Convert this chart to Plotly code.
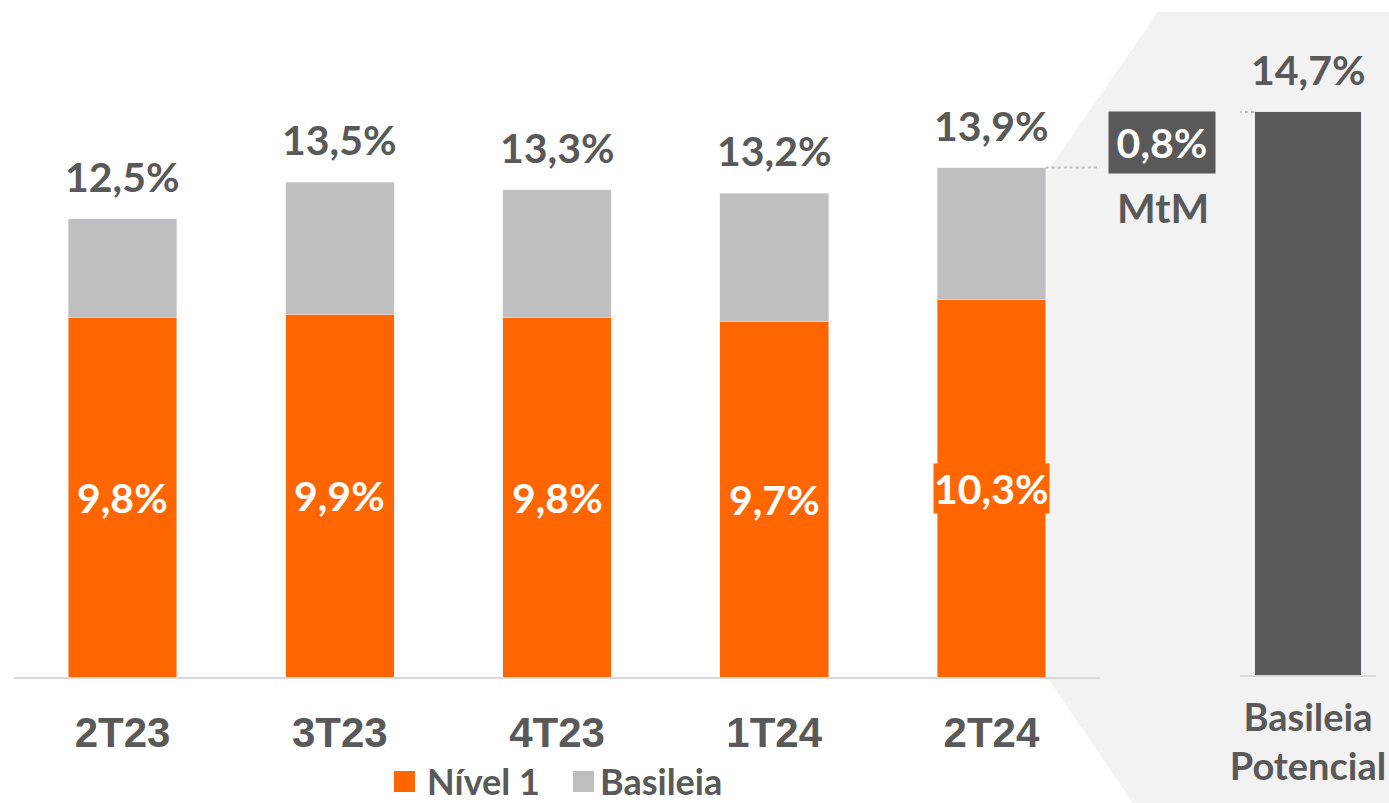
import plotly.graph_objects as go

# ---- data ----
categories = ["2T23", "3T23", "4T23", "1T24", "2T24"]
nivel1 = [9.8, 9.9, 9.8, 9.7, 10.3]
total_basileia = [12.5, 13.5, 13.3, 13.2, 13.9]
potencial_label = "Basileia<br>Potencial"
potencial_value = 14.7
mtm_value = 0.8
series_names = ["Nível 1", "Basileia"]

basileia_part = [round(t - n, 2) for t, n in zip(total_basileia, nivel1)]

W, H = 1389, 803
ORANGE = "#FF6600"
LGRAY = "#BFBFBF"
DARK = "#595959"
BG = "#F2F2F2"


def fmt(v):
    return f"{v:.1f}".replace(".", ",") + "%"


def px(x):
    return x / W


def py(y):
    return 1 - y / H


fig = go.Figure()
fig.add_trace(go.Bar(x=categories, y=nivel1, name=series_names[0], marker_color=ORANGE,
                     xaxis="x", yaxis="y", showlegend=False, hoverinfo="skip"))
fig.add_trace(go.Bar(x=categories, y=basileia_part, name=series_names[1], marker_color=LGRAY,
                     xaxis="x", yaxis="y", showlegend=False, hoverinfo="skip"))
fig.add_trace(go.Bar(x=[potencial_label], y=[potencial_value], marker_color=DARK,
                     xaxis="x2", yaxis="y2", showlegend=False, hoverinfo="skip", width=0.78))

lato = dict(family="Lato", weight="bold")

annotations = []
for c, t, n in zip(categories, total_basileia, nivel1):
    annotations.append(dict(x=c, y=t, xref="x", yref="y", text=fmt(t), showarrow=False,
                            yanchor="bottom", yshift=16,
                            font=dict(size=41, color=DARK, **lato)))
    annotations.append(dict(x=c, y=n / 2, xref="x", yref="y", text=fmt(n), showarrow=False,
                            yanchor="middle", bgcolor=ORANGE, borderpad=0,
                            font=dict(size=41, color="white", **lato)))

annotations.append(dict(x=potencial_label, y=potencial_value, xref="x2", yref="y2",
                        text=fmt(potencial_value), showarrow=False, yanchor="bottom", yshift=16,
                        font=dict(size=41, color=DARK, **lato)))
# MtM box
annotations.append(dict(x=px(1162), y=py(142), xref="paper", yref="paper", text=fmt(mtm_value),
                        showarrow=False, bgcolor=DARK, width=106, height=61, borderpad=0,
                        xanchor="center", yanchor="middle",
                        font=dict(size=41, color="white", **lato)))
annotations.append(dict(x=px(1163), y=py(208), xref="paper", yref="paper", text="MtM",
                        showarrow=False, xanchor="center", yanchor="middle",
                        font=dict(size=41, color=DARK, **lato)))
# custom legend
annotations.append(dict(x=px(425), y=py(781), xref="paper", yref="paper", text=series_names[0],
                        showarrow=False, xanchor="left", yanchor="middle",
                        font=dict(size=36, color=DARK, **lato)))
annotations.append(dict(x=px(598), y=py(781), xref="paper", yref="paper", text=series_names[1],
                        showarrow=False, xanchor="left", yanchor="middle",
                        font=dict(size=36, color=DARK, **lato)))

shapes = [
    dict(type="path", xref="paper", yref="paper", layer="below", line=dict(width=0), fillcolor=BG,
         path=f"M{px(1158)},{py(12)} L{px(1389)},{py(12)} L{px(1389)},{py(803)} "
              f"L{px(1133)},{py(803)} L{px(1047)},{py(677)} L{px(1047)},{py(172)} Z"),
    dict(type="line", xref="x", yref="y", x0=4.25, x1=4.54, y0=total_basileia[-1], y1=total_basileia[-1],
         line=dict(color="#BFBFBF", width=2, dash="dot")),
    dict(type="line", xref="x2", yref="y2", x0=-0.684, x1=-0.39, y0=potencial_value, y1=potencial_value,
         line=dict(color="#BFBFBF", width=2, dash="dot")),
    dict(type="rect", xref="paper", yref="paper", x0=px(394), x1=px(415), y0=py(792), y1=py(771),
         fillcolor=ORANGE, line=dict(width=0)),
    dict(type="rect", xref="paper", yref="paper", x0=px(573), x1=px(594), y0=py(792), y1=py(771),
         fillcolor=LGRAY, line=dict(width=0)),
]

fig.update_layout(
    width=W, height=H, barmode="stack", bargap=0.5,
    margin=dict(l=0, r=0, t=0, b=0, autoexpand=False),
    paper_bgcolor="white", plot_bgcolor="rgba(0,0,0,0)",
    showlegend=False,
    xaxis=dict(domain=[px(14), px(1100)], range=[-0.5, 4.5], showline=True, linecolor="#D9D9D9",
               linewidth=2, ticks="", showgrid=False, zeroline=False, ticklabelstandoff=18,
               automargin=False,
               tickfont=dict(family="Liberation Sans", weight="bold", size=42, color=DARK)),
    yaxis=dict(domain=[py(677), 1], range=[0, 677 / 36.65], visible=False, automargin=False),
    xaxis2=dict(domain=[px(1240), px(1376)], range=[-0.5, 0.5], anchor="y2", showline=True,
                linecolor="#D9D9D9", linewidth=2, ticks="", showgrid=False, zeroline=False,
                ticklabelstandoff=8, automargin=False,
                tickfont=dict(size=38, color=DARK, **lato)),
    yaxis2=dict(domain=[py(675), 1], range=[0, 675 / 38.3], visible=False, anchor="x2",
                automargin=False),
    annotations=annotations, shapes=shapes,
)

fig.write_html("out.html", config={"displayModeBar": False},
               post_script="document.body.style.margin='0';document.body.style.overflow='hidden';")
